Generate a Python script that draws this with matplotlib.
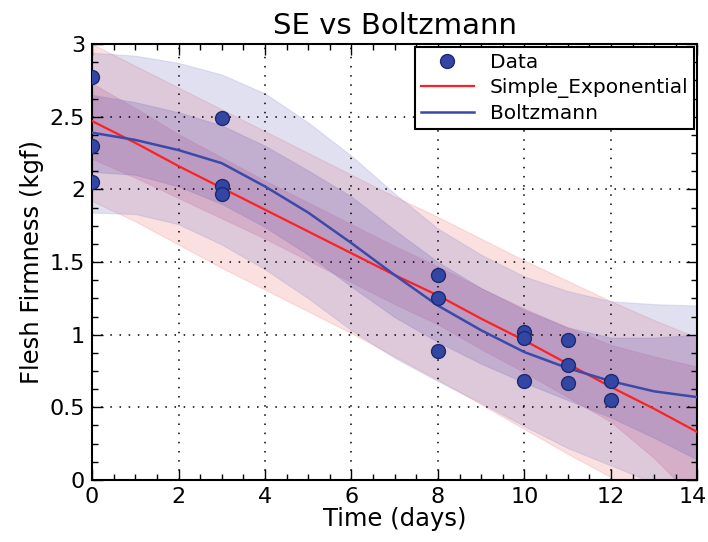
import matplotlib
matplotlib.use("Agg")
import matplotlib.pyplot as plt
import matplotlib.transforms as mtrans
from matplotlib.ticker import MultipleLocator, FormatStrFormatter
import numpy as np

# measured data
t_data = [0, 0, 0, 3, 3, 3, 8, 8, 8, 10, 10, 10, 11, 11, 11, 12, 12]
firm_data = [2.77, 2.30, 2.05, 2.49, 2.02, 1.97, 1.41, 1.25, 0.89,
             1.02, 0.98, 0.68, 0.96, 0.79, 0.67, 0.68, 0.55]

# fitted curves, one value per day
t_fit = list(range(15))
se_fit = [2.47, 2.32, 2.16, 2.01, 1.86, 1.71, 1.56, 1.41, 1.27, 1.11, 0.96, 0.80, 0.64, 0.49, 0.33]
se_ci_hi = [2.73, 2.56, 2.38, 2.22, 2.06, 1.91, 1.76, 1.61, 1.47, 1.32, 1.18, 1.05, 0.93, 0.85, 0.78]
se_ci_lo = [2.21, 2.08, 1.94, 1.80, 1.66, 1.51, 1.36, 1.21, 1.07, 0.90, 0.74, 0.57, 0.40, 0.15, -0.15]
se_pi_hi = [3.00, 2.85, 2.70, 2.55, 2.40, 2.25, 2.10, 1.95, 1.81, 1.66, 1.51, 1.37, 1.23, 1.10, 0.98]
se_pi_lo = [1.92, 1.78, 1.62, 1.46, 1.31, 1.16, 1.01, 0.85, 0.69, 0.52, 0.35, 0.18, 0.02, -0.15, -0.32]

bz_fit = [2.39, 2.34, 2.27, 2.18, 2.02, 1.84, 1.63, 1.41, 1.20, 1.03, 0.88, 0.77, 0.68, 0.61, 0.57]
bz_ci_hi = [2.65, 2.60, 2.53, 2.44, 2.30, 2.13, 1.95, 1.72, 1.50, 1.32, 1.17, 1.05, 0.98, 0.98, 1.00]
bz_ci_lo = [2.12, 2.10, 2.02, 1.90, 1.74, 1.55, 1.33, 1.12, 0.95, 0.80, 0.67, 0.55, 0.43, 0.29, 0.14]
bz_pi_hi = [2.94, 2.92, 2.87, 2.79, 2.66, 2.46, 2.23, 1.97, 1.73, 1.55, 1.40, 1.30, 1.23, 1.21, 1.20]
bz_pi_lo = [1.84, 1.83, 1.76, 1.62, 1.45, 1.25, 1.03, 0.84, 0.68, 0.53, 0.37, 0.22, 0.10, -0.02, -0.08]

x_ticks = [0, 2, 4, 6, 8, 10, 12, 14]

red = "#ff2020"
blue = "#3a4aa8"

fig = plt.figure(figsize=(7.08, 5.42), dpi=100)
ax = fig.add_axes([0.130, 0.1144, 0.855, 0.8044])

# bands
ax.fill_between(t_fit, se_pi_lo, se_pi_hi, color="#f08080", alpha=0.24, lw=0.8, edgecolor="#f08080")
ax.fill_between(t_fit, se_ci_lo, se_ci_hi, color="#d05080", alpha=0.24, lw=0.8, edgecolor="#e070a0")
ax.fill_between(t_fit, bz_pi_lo, bz_pi_hi, color="#8080c8", alpha=0.24, lw=0.8, edgecolor="#9090d0")
ax.fill_between(t_fit, bz_ci_lo, bz_ci_hi, color="#7060b0", alpha=0.24, lw=0.8, edgecolor="#8070c0")

ax.plot(t_data, firm_data, "o", color="#3446a4", mec="#1c2a70", ms=10, label="Data", zorder=5)
ax.plot(t_fit, se_fit, color=red, lw=1.6, label="Simple_Exponential", zorder=4)
ax.plot(t_fit, bz_fit, color=blue, lw=1.8, label="Boltzmann", zorder=4)

ax.set_xlim(0, 14)
ax.set_ylim(0, 3)
ax.set_xticks(x_ticks)
ax.xaxis.set_minor_locator(MultipleLocator(0.5))
ax.yaxis.set_major_locator(MultipleLocator(0.5))
ax.yaxis.set_minor_locator(MultipleLocator(0.125))
ax.yaxis.set_major_formatter(FormatStrFormatter("%g"))
ax.tick_params(which="both", direction="in", top=True, right=True, labelsize=16, colors="black")
ax.tick_params(which="major", length=8, width=1, pad=5)
ax.tick_params(which="minor", length=4, width=1)
for s in ax.spines.values():
    s.set_linewidth(1.5)

# nudge the last x label so it stays inside the figure
last = ax.xaxis.get_major_ticks()[-1].label1
last.set_transform(last.get_transform() + mtrans.ScaledTranslation(-0.05, 0, fig.dpi_scale_trans))

ax.grid(True, which="major", color="black", linestyle=(0, (1, 5)), linewidth=1.1)
ax.set_axisbelow(False)

ax.set_xlabel("Time (days)", fontsize=17.5, labelpad=0)
ax.set_ylabel("Flesh Firmness (kgf)", fontsize=17.5, labelpad=4)
ax.set_title("SE vs Boltzmann", fontsize=21, pad=7)

leg = ax.legend(loc="upper right", numpoints=1, fontsize=14.5, fancybox=False,
                framealpha=1, borderaxespad=0.15, handlelength=2.6, borderpad=0.3,
                labelspacing=0.3, handletextpad=0.8)
leg.get_frame().set_edgecolor("black")
leg.get_frame().set_linewidth(1.5)

fig.savefig("out.png", dpi=100)
